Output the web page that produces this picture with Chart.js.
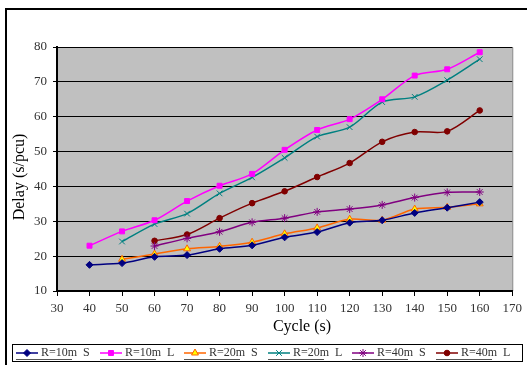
<!DOCTYPE html>
<html>
<head>
<meta charset="utf-8">
<script src="https://cdn.jsdelivr.net/npm/chart.js@4/dist/chart.umd.min.js"></script>
<style>
  html, body { margin: 0; padding: 0; background: #fff; }
  #wrap { width: 527px; height: 365px; position: relative; }
</style>
</head>
<body>
<div id="wrap"><canvas id="delayChart" width="527" height="365"></canvas></div>
<script>
// --- DATA ---
const cycles = [40, 50, 60, 70, 80, 90, 100, 110, 120, 130, 140, 150, 160];
const r10S = [17.5, 18.0, 19.8, 20.3, 22.1, 23.1, 25.4, 26.9, 29.6, 30.3, 32.4, 33.9, 35.5];
const r10L = [23.0, 27.1, 30.3, 35.8, 40.2, 43.6, 50.5, 56.2, 59.3, 65.0, 71.8, 73.6, 78.5];
const r20S = [null, 19.1, 20.6, 22.1, 22.8, 24.0, 26.4, 28.1, 30.6, 30.3, 33.5, 34.0, 35.0];
const r20L = [null, 24.2, 29.2, 32.2, 38.0, 42.6, 48.2, 54.3, 57.0, 64.2, 65.7, 70.5, 76.5];
const r40S = [null, null, 22.9, 25.1, 27.0, 29.7, 30.9, 32.7, 33.5, 34.7, 36.8, 38.3, 38.4];
const r40L = [null, null, 24.4, 26.2, 30.9, 35.2, 38.6, 42.7, 46.7, 52.8, 55.6, 55.8, 61.8];
const seriesNames = ['R=10m  S', 'R=10m  L', 'R=20m  S', 'R=20m  L', 'R=40m  S', 'R=40m  L'];
const xTicks = [30, 40, 50, 60, 70, 80, 90, 100, 110, 120, 130, 140, 150, 160, 170];

const serif = '"Liberation Serif", "DejaVu Serif", serif';

const toPoints = (vals) => cycles.map((c, i) => ({ x: c, y: vals[i] })).filter(p => p.y !== null);

const makeSet = (label, vals, color, style, fill, radius) => ({
    label: label,
    data: toPoints(vals),
    borderColor: color,
    backgroundColor: fill || color,
    pointBorderColor: color,
    pointBackgroundColor: fill || color,
    pointStyle: style,
    pointRadius: radius || 3.5,
    pointBorderWidth: 1,
    borderWidth: 1.5,
    tension: 0.3
});

// --- PLUGINS ---
const framePlugin = {
    id: 'frame',
    beforeDraw(chart) {
        const { ctx, chartArea: a } = chart;
        ctx.save();
        ctx.fillStyle = '#fff';
        ctx.fillRect(0, 0, chart.width, chart.height);
        // outer frame (runs off the right and bottom)
        ctx.strokeStyle = '#000';
        ctx.lineWidth = 2;
        ctx.strokeRect(6, 9, 600, 400);
        // plot background
        ctx.fillStyle = '#c0c0c0';
        ctx.fillRect(a.left, a.top, a.right - a.left, a.bottom - a.top);
        ctx.strokeStyle = '#808080';
        ctx.lineWidth = 1;
        ctx.beginPath();
        ctx.moveTo(a.left, a.top + 0.5);
        ctx.lineTo(a.right + 0.5, a.top + 0.5);
        ctx.lineTo(a.right + 0.5, a.bottom);
        ctx.stroke();
        ctx.restore();
    },
    afterDraw(chart) {
        const { ctx } = chart;
        ctx.save();
        // axis titles
        ctx.fillStyle = '#000';
        ctx.font = '16px ' + serif;
        ctx.textAlign = 'center';
        ctx.textBaseline = 'middle';
        ctx.fillText('Cycle (s)', 302, 327);
        ctx.translate(20, 177);
        ctx.rotate(-Math.PI / 2);
        ctx.fillText('Delay (s/pcu)', 0, 0);
        ctx.restore();

        // legend box
        ctx.save();
        ctx.strokeStyle = '#000';
        ctx.lineWidth = 1;
        ctx.strokeRect(12.5, 344.5, 510, 17);
        ctx.font = '12px ' + serif;
        ctx.textBaseline = 'middle';
        chart.data.datasets.forEach((ds, i) => {
            const x0 = 16 + i * 84;
            const y = 353;
            ctx.strokeStyle = ds.borderColor;
            ctx.lineWidth = 1.5;
            ctx.beginPath();
            ctx.moveTo(x0, y);
            ctx.lineTo(x0 + 22, y);
            ctx.stroke();
            // marker
            ctx.fillStyle = ds.pointBackgroundColor;
            ctx.strokeStyle = ds.pointBorderColor;
            ctx.lineWidth = 1;
            Chart.helpers.drawPoint(ctx, {
                pointStyle: ds.pointStyle,
                radius: ds.pointRadius,
                rotation: 0,
                borderWidth: 1
            }, x0 + 11, y);
            const parts = ds.label.split('  ');
            ctx.fillStyle = '#333';
            ctx.textAlign = 'left';
            ctx.fillText(parts[0], x0 + 25, y);
            ctx.fillText(parts[1], x0 + 67, y);
            // underline as in the original
            ctx.strokeStyle = '#555';
            ctx.lineWidth = 1;
            ctx.beginPath();
            ctx.moveTo(x0, 359.5);
            ctx.lineTo(x0 + 56, 359.5);
            ctx.stroke();
        });
        ctx.restore();
    }
};

const ctx = document.getElementById('delayChart').getContext('2d');
new Chart(ctx, {
    type: 'line',
    data: {
        datasets: [
            makeSet(seriesNames[0], r10S, '#000080', 'rectRot'),
            makeSet(seriesNames[1], r10L, '#ff00ff', 'rect'),
            makeSet(seriesNames[2], r20S, '#ff6600', 'triangle', '#ffff00', 4),
            makeSet(seriesNames[3], r20L, '#008080', 'crossRot', null, 4),
            makeSet(seriesNames[4], r40S, '#800080', 'star', null, 4),
            makeSet(seriesNames[5], r40L, '#800000', 'circle', null, 2.8)
        ]
    },
    options: {
        responsive: false,
        animation: false,
        layout: { padding: { left: 0, top: 47, right: 14, bottom: 0 } },
        plugins: {
            legend: { display: false },
            tooltip: { enabled: false }
        },
        scales: {
            x: {
                type: 'linear',
                min: 30,
                max: 170,
                afterBuildTicks: (scale) => { scale.ticks = xTicks.map(v => ({ value: v })); },
                afterFit: (scale) => { scale.height = 74; },
                border: { color: '#000', width: 2 },
                grid: { drawOnChartArea: false, drawTicks: true, tickLength: 5, color: '#000', lineWidth: 1 },
                ticks: { color: '#333', font: { family: serif, size: 13 }, padding: 5, maxRotation: 0 }
            },
            y: {
                min: 10,
                max: 80,
                afterFit: (scale) => { scale.width = 57; },
                border: { color: '#000', width: 2 },
                grid: { color: '#000', lineWidth: 1, tickLength: 4 },
                ticks: { stepSize: 10, color: '#333', font: { family: serif, size: 13 }, padding: 6 }
            }
        }
    },
    plugins: [framePlugin]
});
</script>
</body>
</html>
